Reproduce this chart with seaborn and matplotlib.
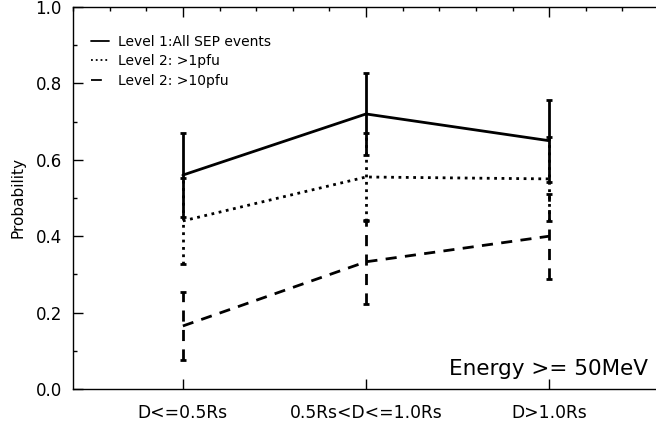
import pandas as pd
import matplotlib
matplotlib.use("Agg")
import matplotlib.pyplot as plt
from matplotlib.ticker import MultipleLocator
import seaborn as sns

# categories on the x axis
categories = ["D<=0.5Rs", "0.5Rs<D<=1.0Rs", "D>1.0Rs"]
positions = [1, 2, 3]

# probabilities and error bars for each level
level1_all = [0.56, 0.72, 0.65]
level1_err = [0.11, 0.107, 0.107]
level2_1pfu = [0.44, 0.555, 0.55]
level2_1pfu_err = [0.113, 0.115, 0.11]
level2_10pfu = [0.165, 0.333, 0.40]
level2_10pfu_err = [0.088, 0.11, 0.111]

labels = ["Level 1:All SEP events", "Level 2: >1pfu", "Level 2: >10pfu"]

sns.set_style("ticks")
plt.rcParams["font.family"] = ["DejaVu Sans"]
plt.rcParams["text.color"] = "black"
plt.rcParams["axes.labelcolor"] = "black"
plt.rcParams["xtick.color"] = "black"
plt.rcParams["ytick.color"] = "black"


def main():
    rows = []
    for lab, vals, errs in zip(labels,
                               [level1_all, level2_1pfu, level2_10pfu],
                               [level1_err, level2_1pfu_err, level2_10pfu_err]):
        for x, v, e in zip(positions, vals, errs):
            rows.append({"x": x, "prob": v, "err": e, "level": lab})
    df = pd.DataFrame(rows)

    fig = plt.figure(figsize=(6.56, 4.22), dpi=100)
    ax = fig.add_axes([73 / 656, 1 - 389 / 422, 586 / 656, 382 / 422])

    styles = {labels[0]: "-", labels[1]: ":", labels[2]: (0, (4, 3))}
    sns.lineplot(data=df, x="x", y="prob", style="level", dashes=False,
                 color="black", linewidth=2, ax=ax, legend=False)
    for line, lab in zip(ax.get_lines(), labels):
        line.set_linestyle(styles[lab])

    for lab in labels:
        sub = df[df["level"] == lab]
        eb = ax.errorbar(sub["x"], sub["prob"], yerr=sub["err"], fmt="none",
                         ecolor="black", elinewidth=2, capsize=2.5, capthick=2)
        for c in eb[2]:
            c.set_linestyle(styles[lab])

    handles = [plt.Line2D([], [], color="black", lw=1.3, ls="-"),
               plt.Line2D([], [], color="black", lw=1.3, ls=":"),
               plt.Line2D([], [], color="black", lw=1.3, ls=(0, (6, 20)))]
    ax.legend(handles, labels, loc="upper left", bbox_to_anchor=(0.01, 0.96),
              frameon=False, fontsize=10, handlelength=1.3, handletextpad=0.6,
              labelspacing=0.4)

    ax.set_xlim(0.4, 3.6)
    ax.set_ylim(0, 1.0)
    ax.set_xticks(positions)
    ax.set_xticklabels(categories, fontsize=12.3)
    ax.xaxis.set_minor_locator(MultipleLocator(0.2))
    ax.yaxis.set_major_locator(MultipleLocator(0.2))
    ax.yaxis.set_minor_locator(MultipleLocator(0.1))
    ax.set_yticklabels([f"{v:.1f}" for v in ax.get_yticks()], fontsize=12)
    ax.tick_params(which="major", direction="in", length=7, width=1,
                   top=True, right=False, pad=8)
    ax.tick_params(which="minor", direction="in", length=3, width=1,
                   top=True, bottom=False, right=False)
    ax.tick_params(axis="x", which="major", pad=11)
    ax.set_xlabel("")
    ax.set_ylabel("Probability", fontsize=11, labelpad=7)
    for s in ax.spines.values():
        s.set_linewidth(1)
        s.set_color("black")

    fig.text(648 / 656, 1 - 375 / 422, "Energy >= 50MeV", ha="right",
             va="baseline", fontsize=15.5)

    fig.savefig("out.png", dpi=100)
    plt.close(fig)


if __name__ == "__main__":
    main()
